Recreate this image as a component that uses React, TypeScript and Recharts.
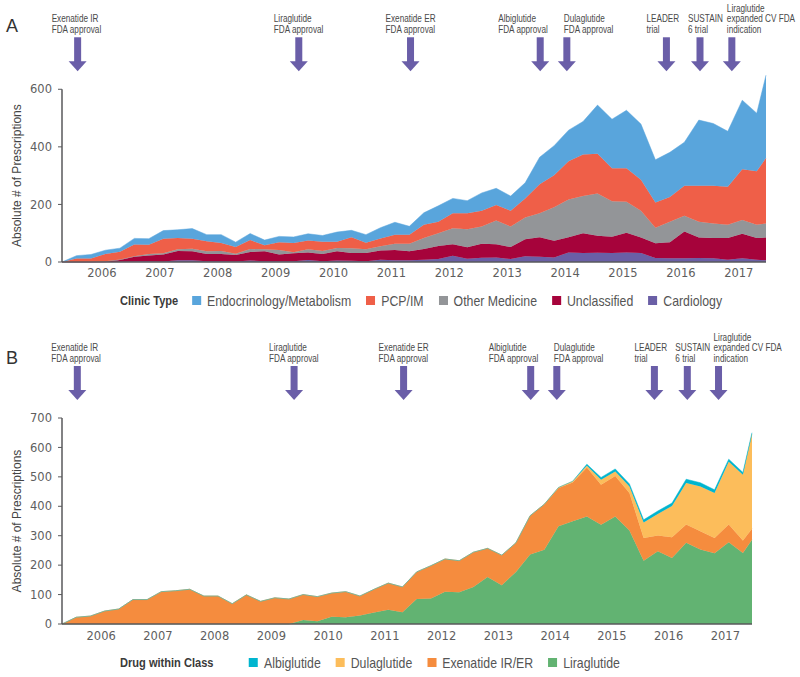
import React from "react"
import { AreaChart, Area, XAxis, YAxis, ReferenceLine, ReferenceDot } from "recharts"

// quarter positions (decimal years)
const quarters = [
  2005.31, 2005.56, 2005.81, 2006.06, 2006.31, 2006.56, 2006.81, 2007.06, 2007.31, 2007.56,
  2007.81, 2008.06, 2008.31, 2008.56, 2008.81, 2009.06, 2009.31, 2009.56, 2009.81, 2010.06,
  2010.31, 2010.56, 2010.81, 2011.06, 2011.31, 2011.56, 2011.81, 2012.06, 2012.31, 2012.56,
  2012.81, 2013.06, 2013.31, 2013.56, 2013.81, 2014.06, 2014.31, 2014.56, 2014.81, 2015.06,
  2015.31, 2015.56, 2015.81, 2016.06, 2016.31, 2016.56, 2016.81, 2017.06, 2017.31, 2017.47,
]

// panel A - clinic type
const endocrinology = [0, 10, 14, 13, 12, 21, 21, 28, 29, 35, 23, 29, 17, 23, 18, 20, 21, 23, 22, 34, 24, 28, 37, 43, 29, 42, 55, 52, 44, 62, 58, 51, 54, 94, 103, 108, 115, 169, 170, 201, 193, 148, 155, 151, 228, 216, 193, 240, 202, 288]
const pcpIm = [0, 12, 11, 25, 27, 41, 32, 51, 39, 35, 35, 28, 23, 31, 14, 27, 32, 31, 32, 21, 38, 23, 27, 32, 32, 46, 40, 52, 55, 55, 54, 55, 66, 101, 111, 133, 144, 138, 115, 117, 108, 88, 86, 104, 125, 131, 132, 176, 186, 227]
const otherMedicine = [0, 0, 1, 2, 2, 2, 5, 4, 6, 9, 9, 10, 5, 10, 7, 16, 4, 11, 10, 12, 17, 13, 15, 21, 26, 38, 44, 55, 63, 60, 82, 71, 76, 83, 116, 131, 129, 147, 123, 107, 93, 54, 71, 55, 55, 51, 46, 48, 46, 49]
const unclassified = [0, 0, 0, 1, 6, 16, 20, 24, 32, 31, 25, 25, 22, 30, 34, 23, 27, 26, 25, 32, 27, 28, 32, 36, 31, 37, 46, 40, 40, 48, 46, 42, 59, 68, 58, 53, 69, 59, 57, 69, 54, 51, 56, 93, 71, 70, 75, 85, 75, 79]
const cardiology = [0, 0, 0, 0, 1, 2, 3, 2, 6, 6, 3, 3, 2, 5, 3, 3, 3, 7, 3, 5, 4, 3, 8, 6, 6, 8, 10, 22, 11, 15, 16, 10, 20, 18, 16, 33, 31, 32, 31, 33, 31, 14, 13, 13, 14, 13, 8, 13, 8, 6]

// panel B - drug within class
const liraglutide = [0, 0, 0, 0, 0, 0, 0, 0, 0, 0, 0, 0, 0, 0, 0, 0, 0, 14, 9, 25, 23, 29, 39, 48, 40, 85, 87, 110, 108, 126, 160, 132, 177, 236, 252, 332, 349, 365, 337, 365, 318, 215, 247, 224, 276, 253, 240, 278, 241, 286]
const exenatide = [0, 23, 27, 44, 51, 83, 83, 110, 113, 118, 95, 95, 69, 99, 77, 89, 85, 86, 84, 80, 87, 66, 79, 91, 86, 92, 111, 111, 107, 118, 97, 102, 99, 132, 155, 130, 132, 167, 136, 138, 127, 77, 54, 71, 62, 62, 52, 60, 43, 38]
const dulaglutide = [0, 0, 0, 0, 0, 0, 0, 0, 0, 0, 0, 0, 0, 0, 0, 0, 0, 0, 0, 0, 0, 0, 0, 0, 0, 0, 0, 0, 0, 0, 0, 0, 0, 0, 0, 2, 4, 6, 17, 15, 22, 53, 73, 106, 141, 152, 153, 213, 223, 321]
const albiglutide = [0, 0, 0, 0, 0, 0, 0, 0, 0, 0, 0, 0, 0, 0, 0, 0, 0, 0, 0, 0, 0, 0, 0, 0, 0, 0, 0, 0, 0, 0, 0, 0, 0, 0, 0, 0, 0, 5, 8, 9, 9, 9, 10, 10, 13, 13, 11, 9, 8, 5]

const yearTicks = [2006, 2007, 2008, 2009, 2010, 2011, 2012, 2013, 2014, 2015, 2016, 2017]
const clinicTicks = [0, 200, 400, 600]
const drugTicks = [0, 100, 200, 300, 400, 500, 600, 700]

const events = [
  { t: 2005.58, lines: ["Exenatide IR", "FDA approval"], dx: -26 },
  { t: 2009.4, lines: ["Liraglutide", "FDA approval"], dx: -25 },
  { t: 2011.33, lines: ["Exenatide ER", "FDA approval"], dx: -25 },
  { t: 2013.57, lines: ["Albiglutide", "FDA approval"], dx: -42 },
  { t: 2014.03, lines: ["Dulaglutide", "FDA approval"], dx: -3 },
  { t: 2015.75, lines: ["LEADER", "trial"], dx: -20 },
  { t: 2016.33, lines: ["SUSTAIN", "6 trial"], dx: -12 },
  { t: 2016.88, lines: ["Liraglutide", "expanded CV FDA", "indication"], dx: -5 },
]

const clinicSeries = [
  { key: "cardiology", name: "Cardiology", color: "#6a5fa6", values: cardiology },
  { key: "unclassified", name: "Unclassified", color: "#a6033b", values: unclassified },
  { key: "other", name: "Other Medicine", color: "#939598", values: otherMedicine },
  { key: "pcp", name: "PCP/IM", color: "#ef5f48", values: pcpIm },
  { key: "endo", name: "Endocrinology/Metabolism", color: "#59a5dc", values: endocrinology },
]

const drugSeries = [
  { key: "lira", name: "Liraglutide", color: "#62b372", values: liraglutide },
  { key: "exen", name: "Exenatide IR/ER", color: "#f58c3e", values: exenatide },
  { key: "dula", name: "Dulaglutide", color: "#fcbd5b", values: dulaglutide },
  { key: "albi", name: "Albiglutide", color: "#00b5cf", values: albiglutide },
]

function buildRows(series: { key: string; values: number[] }[]) {
  return quarters.map((t, i) => {
    const row: Record<string, number> = { t }
    series.forEach((s) => (row[s.key] = s.values[i]))
    return row
  })
}

const clinicData = buildRows(clinicSeries)
const drugData = buildRows(drugSeries)

const AXIS = "#58595b"
const SANS = "'Liberation Sans', Arial, sans-serif"
const NARROW_X = 0.82 // squeeze a regular sans into a condensed look
const tickStyle = { fontFamily: "'DejaVu Sans', sans-serif", fontSize: 11.5, fill: "#5e5e5e" }

function EventMarker(props: any) {
  const { cx, cy, lines, dx } = props
  if (cx == null || cy == null) return null
  const last = cy - 56.5
  return (
    <g>
      {lines.map((l: string, i: number) => (
        <text
          key={i}
          transform={`translate(${cx + dx} ${last - (lines.length - 1 - i) * 10.5}) scale(${NARROW_X} 1)`}
          fontFamily={SANS}
          fontSize={10}
          fill="#4a4a4a"
        >
          {l}
        </text>
      ))}
      <rect x={cx - 3.5} y={cy - 52} width={7} height={25} fill="#6a5ea8" />
      <polygon points={`${cx - 9},${cy - 28} ${cx + 9},${cy - 28} ${cx},${cy - 18}`} fill="#6a5ea8" />
    </g>
  )
}

function axisTitle(midValue: number, maxValue: number) {
  return (props: any) => {
    const vb = props.viewBox || {}
    const cy = vb.y + vb.height * (1 - midValue / maxValue)
    const cx = 17
    return (
      <text
        x={cx}
        y={cy}
        transform={`rotate(-90 ${cx} ${cy})`}
        textAnchor="middle"
        dominantBaseline="central"
        fontFamily={SANS}
        fontSize={12}
        fill="#444"
      >
        Absolute # of Prescriptions
      </text>
    )
  }
}

function LegendRow({ title, titleWidth, items, top }: { title: string; titleWidth: number; items: { name: string; color: string }[]; top: number }) {
  return (
    <div
      style={{
        position: "absolute",
        left: 120,
        top,
        display: "flex",
        alignItems: "center",
        height: 18,
        fontFamily: SANS,
        fontSize: 15,
        color: "#555",
        whiteSpace: "nowrap",
        transform: `scaleX(${NARROW_X})`,
        transformOrigin: "0 50%",
      }}
    >
      <span style={{ width: titleWidth / NARROW_X, fontWeight: 700, fontSize: 13.5, color: "#3a3a3a" }}>{title}</span>
      {items.map((it) => (
        <span key={it.name} style={{ display: "flex", alignItems: "center", marginRight: 15 / NARROW_X }}>
          <span style={{ width: 9 / NARROW_X, height: 9, background: it.color, marginRight: 6 / NARROW_X }} />
          {it.name}
        </span>
      ))}
    </div>
  )
}

function PanelLetter({ letter, top }: { letter: string; top: number }) {
  return (
    <div style={{ position: "absolute", left: 6, top, fontFamily: SANS, fontSize: 18, lineHeight: "18px", color: "#333" }}>
      {letter}
    </div>
  )
}

export default function App() {
  const xMin = quarters[0]
  const xMax = quarters[quarters.length - 1]
  return (
    <div style={{ position: "absolute", left: 0, top: 0, width: 800, height: 677, background: "#fff" }}>
      <PanelLetter letter="A" top={17} />
      <div style={{ position: "absolute", left: 0, top: 0 }}>
        <AreaChart width={800} height={290} data={clinicData} margin={{ top: 72, right: 34, bottom: 8, left: 0 }}>
          <XAxis
            dataKey="t"
            type="number"
            domain={[xMin, xMax]}
            ticks={yearTicks}
            interval={0}
            tickLine={false}
            tickMargin={1}
            height={20}
            axisLine={{ stroke: AXIS, strokeWidth: 1.5 }}
            tick={tickStyle}
          />
          <YAxis
            type="number"
            domain={[0, 660]}
            ticks={clinicTicks}
            interval={0}
            width={62}
            axisLine={false}
            tickLine={{ stroke: AXIS }}
            tickSize={4}
            tickMargin={6}
            tick={tickStyle}
            label={axisTitle(300, 660)}
          />
          {clinicSeries.map((s) => (
            <Area
              key={s.key}
              type="linear"
              dataKey={s.key}
              stackId="a"
              stroke={s.color}
              strokeWidth={0.5}
              fill={s.color}
              fillOpacity={1}
              dot={false}
              activeDot={false}
              isAnimationActive={false}
            />
          ))}
          <ReferenceLine segment={[{ x: xMin, y: 0 }, { x: xMin, y: 600 }]} stroke={AXIS} strokeWidth={1.5} />
          {events.map((e) => (
            <ReferenceDot
              key={e.t}
              x={e.t}
              y={600}
              r={0}
              ifOverflow="visible"
              shape={(p: any) => <EventMarker {...p} lines={e.lines} dx={e.dx} />}
            />
          ))}
        </AreaChart>
      </div>
      <LegendRow
        title="Clinic Type"
        titleWidth={72}
        top={291}
        items={[...clinicSeries].reverse().map((s) => ({ name: s.name, color: s.color }))}
      />

      <PanelLetter letter="B" top={349} />
      <div style={{ position: "absolute", left: 0, top: 330 }}>
        <AreaChart width={800} height={320} data={drugData} margin={{ top: 88, right: 48, bottom: 6, left: 0 }}>
          <XAxis
            dataKey="t"
            type="number"
            domain={[xMin, xMax]}
            ticks={yearTicks}
            interval={0}
            tickLine={false}
            tickMargin={2}
            height={20}
            axisLine={{ stroke: AXIS, strokeWidth: 1.5 }}
            tick={tickStyle}
          />
          <YAxis
            type="number"
            domain={[0, 700]}
            ticks={drugTicks}
            interval={0}
            width={62}
            axisLine={{ stroke: AXIS, strokeWidth: 1.5 }}
            tickLine={{ stroke: AXIS }}
            tickSize={4}
            tickMargin={6}
            tick={tickStyle}
            label={axisTitle(350, 700)}
          />
          {drugSeries.map((s) => (
            <Area
              key={s.key}
              type="linear"
              dataKey={s.key}
              stackId="b"
              stroke={s.color}
              strokeWidth={0.5}
              fill={s.color}
              fillOpacity={1}
              dot={false}
              activeDot={false}
              isAnimationActive={false}
            />
          ))}
          {events.map((e) => (
            <ReferenceDot
              key={e.t}
              x={e.t}
              y={700}
              r={0}
              ifOverflow="visible"
              shape={(p: any) => <EventMarker {...p} lines={e.lines} dx={e.dx} />}
            />
          ))}
        </AreaChart>
      </div>
      <LegendRow
        title="Drug within Class"
        titleWidth={129}
        top={653}
        items={[...drugSeries].reverse().map((s) => ({ name: s.name, color: s.color }))}
      />
    </div>
  )
}
